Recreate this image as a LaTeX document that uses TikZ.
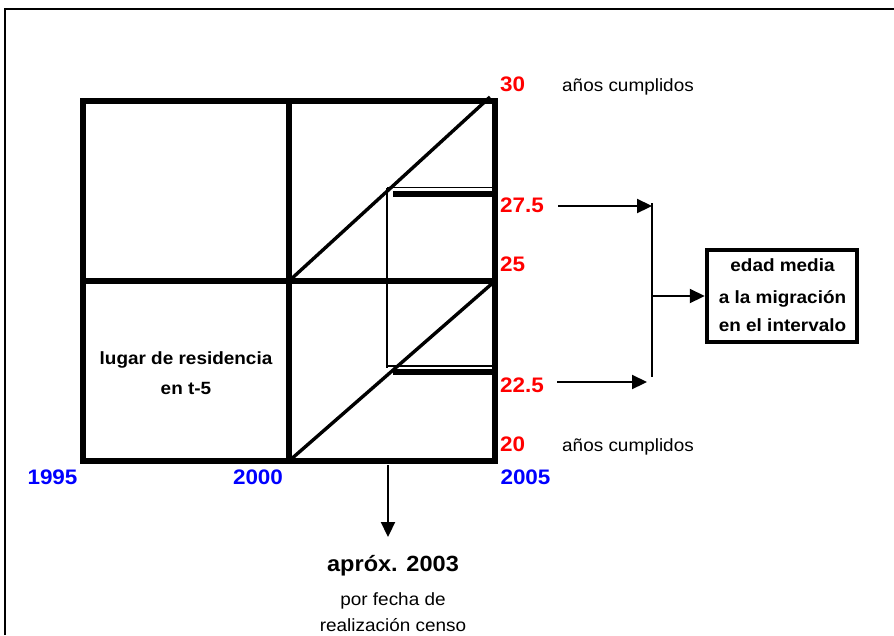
\documentclass[tikz,border=0pt]{standalone}
\usepackage{fontspec}
\setmainfont{Liberation Sans}[FakeStretch=1.07]
\usetikzlibrary{arrows.meta}
\begin{document}
\begin{tikzpicture}[x=1pt,y=-1pt,
  gridline/.style={line width=5.2pt, line join=miter, line cap=rect},
  diagline/.style={line width=3.4pt},
  thinline/.style={line width=2.2pt},
  barline/.style={line width=6.5pt},
  arr/.style={line width=2.2pt,-{Triangle[length=15pt,width=14pt]}},
  redlab/.style={text=red, font=\fontsize{21}{24}\selectfont\bfseries, inner sep=0pt, anchor=base west},
  bluelab/.style={text=blue, font=\fontsize{21}{24}\selectfont\bfseries, inner sep=0pt, anchor=base},
  notelab/.style={font=\fontsize{17.7}{20}\selectfont, inner sep=0pt, anchor=base west},
  boldtxt/.style={font=\fontsize{17.7}{20}\selectfont\bfseries, inner sep=0pt, anchor=base},
  regtxt/.style={font=\fontsize{17.7}{20}\selectfont, inner sep=0pt, anchor=base},
  resbox/.style={draw, line width=4.5pt, minimum width=150pt, minimum height=92pt, inner sep=0pt}
]
\useasboundingbox (0,0) rectangle (894,635);
% outer frame (top and left only)
\coordinate (f1) at (5,635);
\coordinate (f2) at (5,9);
\coordinate (f3) at (894,9);
\draw[line width=1.8pt] (f1) -- (f2) -- (f3);

% grid
\coordinate (A) at (83,101);
\coordinate (B) at (289,101);
\coordinate (C) at (495,101);
\coordinate (D) at (83,281);
\coordinate (E) at (289,281);
\coordinate (F) at (495,281);
\coordinate (G) at (83,461);
\coordinate (H) at (289,461);
\coordinate (I) at (495,461);
\draw[gridline] (A) rectangle (I);
\draw[gridline] (B) -- (H);
\draw[gridline] (D) -- (F);

% diagonals
\coordinate (dtop) at (490,97);
\draw[diagline] (E) -- (dtop);
\draw[diagline] (H) -- (F);

% interval marks
\coordinate (v1) at (387,187.5);
\coordinate (v2) at (387,368);
\draw[thinline] (v1) -- (v2);
\coordinate (t1e) at (492,187.5);
\coordinate (t2s) at (387,366);
\coordinate (t2e) at (492,366);
\draw[line width=1.7pt] (v1) -- (t1e);
\draw[line width=1.7pt] (t2s) -- (t2e);
\coordinate (b1s) at (393,194);
\coordinate (b1e) at (492,194);
\coordinate (b2s) at (393,372);
\coordinate (b2e) at (492,372);
\draw[barline] (b1s) -- (b1e);
\draw[barline] (b2s) -- (b2e);

% red age labels
\node[redlab] (l30) at (500,91.7) {30};
\node[redlab] (l275) at (500,212.3) {27.5};
\node[redlab] (l25) at (500,271.7) {25};
\node[redlab] (l225) at (500,392) {22.5};
\node[redlab] (l20) at (500,451.7) {20};
\node[notelab] (ac1) at (562,91.7) {años cumplidos};
\node[notelab] (ac2) at (562,451.7) {años cumplidos};

% blue year labels
\node[bluelab] (y1995) at (52.5,484) {1995};
\node[bluelab] (y2000) at (258,484) {2000};
\node[bluelab] (y2005) at (525.5,484) {2005};

% residence text
\node[boldtxt] (res1) at (186,364) {lugar de residencia};
\node[boldtxt] (res2) at (186,394) {en t-5};

% census arrow
\coordinate (c1) at (388,465);
\coordinate (c2) at (388,537);
\draw[arr] (c1) -- (c2);
\node[font=\fontsize{22}{24}\selectfont\bfseries, inner sep=0pt, anchor=base] (aprox) at (393,571) {apróx. 2003};
\node[regtxt] (pf) at (393,605) {por fecha de};
\node[regtxt] (rc) at (393,631) {realización censo};

% right arrows
\coordinate (a1s) at (558,206);
\coordinate (a1e) at (652,206);
\coordinate (a2s) at (557,382);
\coordinate (a2e) at (647,382);
\coordinate (vt) at (652,203);
\coordinate (vb) at (652,377);
\coordinate (vm) at (652,296);
\draw[arr] (a1s) -- (a1e);
\draw[arr] (a2s) -- (a2e);
\draw[line width=2.2pt] (vt) -- (vb);

\node[resbox] (box) at (782,296) {};
\draw[arr] (vm) -- (box.west);
\node[boldtxt] (bt1) at (782.5,271.7) {edad media};
\node[boldtxt] (bt2) at (782.5,303.3) {a la migración};
\node[boldtxt] (bt3) at (782.5,331.7) {en el intervalo};
\end{tikzpicture}
\end{document}
